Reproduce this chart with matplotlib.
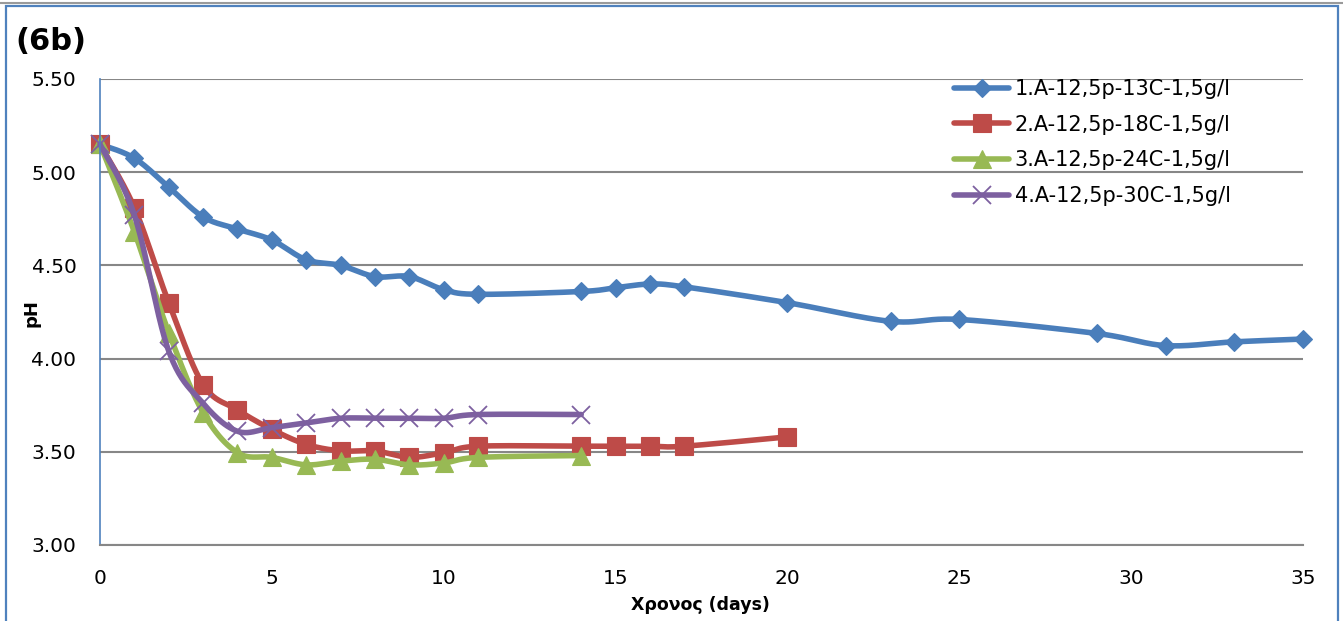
import numpy as np
import matplotlib
matplotlib.use("Agg")
import matplotlib.pyplot as plt
from matplotlib.patches import Rectangle
from matplotlib.lines import Line2D

# ---------------- data ----------------
days_1 = [0, 1, 2, 3, 4, 5, 6, 7, 8, 9, 10, 11, 14, 15, 16, 17, 20, 23, 25, 29, 31, 33, 35]
ph_1 = [5.15, 5.075, 4.92, 4.76, 4.695, 4.636, 4.53, 4.50, 4.44, 4.44, 4.37, 4.345, 4.36, 4.38,
        4.40, 4.385, 4.30, 4.20, 4.21, 4.135, 4.07, 4.09, 4.105]

days_2 = [0, 1, 2, 3, 4, 5, 6, 7, 8, 9, 10, 11, 14, 15, 16, 17, 20]
ph_2 = [5.15, 4.81, 4.30, 3.86, 3.725, 3.62, 3.54, 3.505, 3.505, 3.47, 3.495, 3.53, 3.53, 3.53,
        3.53, 3.53, 3.58]

days_3 = [0, 1, 2, 3, 4, 5, 6, 7, 8, 9, 10, 11, 14]
ph_3 = [5.15, 4.68, 4.14, 3.71, 3.495, 3.47, 3.43, 3.45, 3.46, 3.43, 3.44, 3.47, 3.48]

days_4 = [0, 1, 2, 3, 4, 5, 6, 7, 8, 9, 10, 11, 14]
ph_4 = [5.15, 4.77, 4.04, 3.76, 3.61, 3.63, 3.655, 3.68, 3.68, 3.68, 3.68, 3.70, 3.70]

labels = ["1.A-12,5p-13C-1,5g/l", "2.A-12,5p-18C-1,5g/l",
          "3.A-12,5p-24C-1,5g/l", "4.A-12,5p-30C-1,5g/l"]
x_ticks = [0, 5, 10, 15, 20, 25, 30, 35]
y_ticks = [3.00, 3.50, 4.00, 4.50, 5.00, 5.50]
title_text = "(6b)"
x_label = "Χρονος (days)"
y_label = "pH"

# ---------------- helpers ----------------
def smooth(x, y, n=24):
    pts = np.column_stack([np.asarray(x, float), np.asarray(y, float)])
    out = [pts[0]]
    idx = [0]
    m = len(pts)
    t = np.linspace(0, 1, n + 1)[1:]
    for i in range(m - 1):
        p0 = pts[i - 1] if i > 0 else pts[i]
        p1 = pts[i]
        p2 = pts[i + 1]
        p3 = pts[i + 2] if i + 2 < m else pts[i + 1]
        c1 = p1 + (p2 - p0) / 6.0
        c2 = p2 - (p3 - p1) / 6.0
        seg = (((1 - t) ** 3)[:, None] * p1 + (3 * (1 - t) ** 2 * t)[:, None] * c1
               + (3 * (1 - t) * t ** 2)[:, None] * c2 + (t ** 3)[:, None] * p2)
        out.extend(seg)
        idx.append(len(out) - 1)
    arr = np.array(out)
    return arr[:, 0], arr[:, 1], idx

plt.rcParams['font.family'] = ['DejaVu Sans']

W, H = 1343, 621
fig = plt.figure(figsize=(W / 100, H / 100), dpi=100)
fig.patch.set_facecolor('white')

ax = fig.add_axes([100 / W, (H - 545) / H, 1203 / W, 466 / H])

series = [
    (days_1, ph_1, '#4A7EBB', 'D', 9.5, dict()),
    (days_2, ph_2, '#BE4B48', 's', 12.5, dict()),
    (days_3, ph_3, '#98B954', '^', 13.0, dict()),
    (days_4, ph_4, '#7D60A0', 'x', 12.5, dict(markeredgewidth=1.3)),
]

for (dx, dy, col, mk, ms, extra), lab in zip(series, labels):
    sx, sy, idx = smooth(dx, dy)
    kw = dict(color=col, lw=4.0, marker=mk, markersize=ms, markevery=idx,
              markerfacecolor=col, markeredgecolor=col, clip_on=False,
              solid_capstyle='round', solid_joinstyle='round', label=lab)
    if mk != 'x':
        kw['markeredgewidth'] = 0.8
    kw.update(extra)
    ax.plot(sx, sy, **kw)

ax.set_xlim(0, 35)
ax.set_ylim(3.0, 5.5)
ax.set_xticks(x_ticks)
ax.set_xticklabels([str(v) for v in x_ticks])
ax.set_yticks(y_ticks)
ax.set_yticklabels([f"{v:.2f}" for v in y_ticks])
ax.tick_params(axis='both', length=0, labelsize=14.5, colors='black')
ax.tick_params(axis='y', pad=17)
ax.tick_params(axis='x', pad=17)

ax.yaxis.grid(True, color='#878787', lw=1.5)
ax.set_axisbelow(True)
for s in ['top', 'right']:
    ax.spines[s].set_visible(False)
ax.spines['bottom'].set_color('#878787')
ax.spines['bottom'].set_linewidth(1.5)
ax.spines['left'].set_color('#4F81BD')
ax.spines['left'].set_linewidth(1.2)

ax.set_xlabel(x_label, fontsize=12.5, fontweight='bold')
ax.xaxis.set_label_coords((700 - 100) / 1203, -(605 - 545) / 466)
ax.xaxis.label.set_va('center')
ax.set_ylabel(y_label, fontsize=13, fontweight='bold')
ax.yaxis.set_label_coords((31 - 100) / 1203, (545 - 313) / 466)
ax.yaxis.label.set_va('center')

leg = ax.legend(loc='upper left', bbox_to_anchor=(0.710, 1.0), frameon=False,
                fontsize=15, handlelength=2.65, handletextpad=0.25,
                labelspacing=0.75, borderpad=0, borderaxespad=0)

fig.text(15 / W, 1 - 42 / H, title_text, fontsize=22, fontweight='bold',
         ha='left', va='center')

# outer chart frame
fig.add_artist(Line2D([0, 1], [1 - 2.5 / H, 1 - 2.5 / H], transform=fig.transFigure,
                      color='#9A9A9A', lw=1.5))
fig.add_artist(Rectangle((6 / W, -0.05), (1338 - 6) / W, 1.05 - 6 / H,
                         transform=fig.transFigure, fill=False,
                         edgecolor='#4F81BD', lw=1.6))

fig.savefig('out.png', dpi=100, facecolor='white')
